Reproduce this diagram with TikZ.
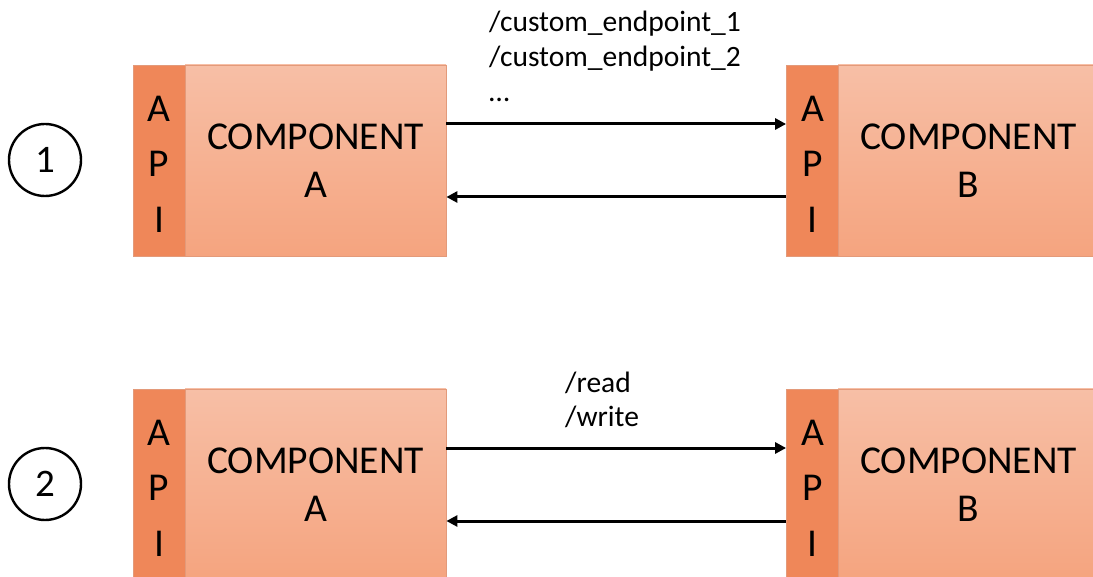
\documentclass[tikz,border=0pt]{standalone}
\usepackage{fontspec}
\setmainfont{Carlito}
\usetikzlibrary{arrows.meta}
\definecolor{apiC}{HTML}{EF8759}
\definecolor{topC}{HTML}{F7BFA6}
\definecolor{botC}{HTML}{F5A47F}
\definecolor{edgeC}{HTML}{E39A7A}
\tikzset{
  mainbox/.style={rectangle, draw=edgeC, line width=0.8pt, top color=topC, bottom color=botC, inner sep=0pt, minimum height=191pt, align=center, font=\fontsize{39.5}{48}\selectfont},
  apibox/.style={rectangle, draw=edgeC, line width=0.8pt, fill=apiC, inner sep=0pt, minimum width=52pt, minimum height=191pt},
  apitext/.style={inner sep=0pt, align=center, font=\fontsize{39.5}{55.5}\selectfont},
  numcirc/.style={circle, draw=black, line width=2.4pt, minimum size=72pt, inner sep=0pt, font=\fontsize{39}{40}\selectfont},
  flow/.style={line width=3pt, -{Triangle[length=11pt,width=11pt]}},
  lbl/.style={anchor=base west, inner sep=0pt, font=\fontsize{29.5}{35}\selectfont}
}
\begin{document}
\begin{tikzpicture}[x=1pt,y=-1pt]
\useasboundingbox (0,0) rectangle (1093,577);
\clip (0,0) rectangle (1093,577);
% row 1
\node[numcirc] (c1) at (45,160) {1};
\node[apibox] (apiA1) at (159,160.5) {};
\node[apitext] (apiA1t) at ([yshift=-3.5pt]apiA1.center) {A\\P\\I};
\node[mainbox, minimum width=261pt] (A1) at (315.5,160.5) {COMPONENT\\A};
\node[apibox] (apiB1) at (812.5,160.5) {};
\node[apitext] (apiB1t) at ([yshift=-3.5pt]apiB1.center) {A\\P\\I};
\node[mainbox, minimum width=261pt] (B1) at (968.5,160.5) {COMPONENT\\B};
\draw[flow] ([yshift=36.5pt]A1.east) -- ([yshift=36.5pt]apiB1.west);
\draw[flow] ([yshift=-36.5pt]apiB1.west) -- ([yshift=-36.5pt]A1.east);
\node[lbl] (e1) at (489,32) {/custom\_endpoint\_1};
\node[lbl] (e2) at (489,67) {/custom\_endpoint\_2};
\node[lbl] (e3) at (489,102) {\dots};
% row 2
\node[numcirc] (c2) at (45,484) {2};
\node[apibox] (apiA2) at (159,484.5) {};
\node[apitext] (apiA2t) at ([yshift=-3.5pt]apiA2.center) {A\\P\\I};
\node[mainbox, minimum width=261pt] (A2) at (315.5,484.5) {COMPONENT\\A};
\node[apibox] (apiB2) at (812.5,484.5) {};
\node[apitext] (apiB2t) at ([yshift=-3.5pt]apiB2.center) {A\\P\\I};
\node[mainbox, minimum width=261pt] (B2) at (968.5,484.5) {COMPONENT\\B};
\draw[flow] ([yshift=36.5pt]A2.east) -- ([yshift=36.5pt]apiB2.west);
\draw[flow] ([yshift=-36.5pt]apiB2.west) -- ([yshift=-36.5pt]A2.east);
\node[lbl] (r1) at (565,392) {/read};
\node[lbl] (r2) at (565,426) {/write};
\end{tikzpicture}
\end{document}
